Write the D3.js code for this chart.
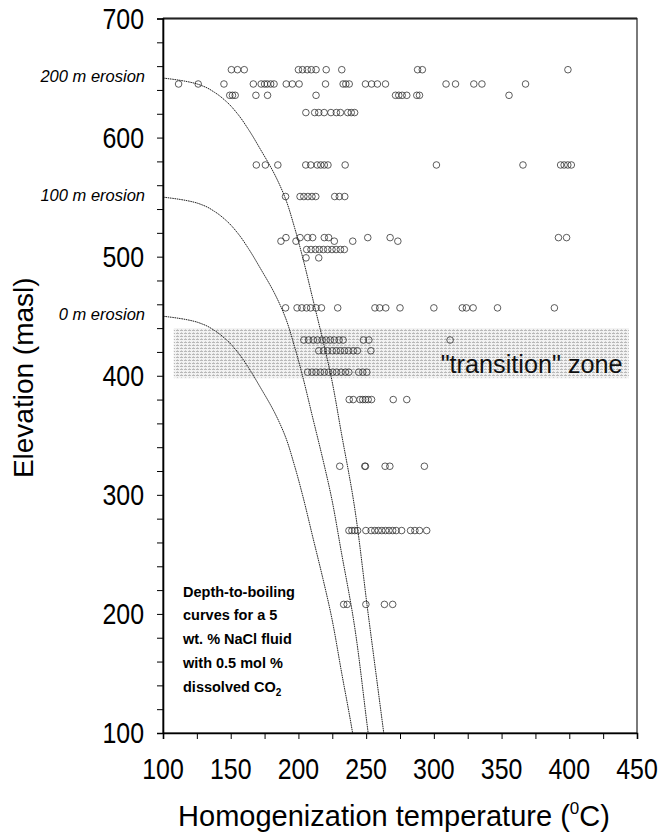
<!DOCTYPE html>
<html><head><meta charset="utf-8">
<script src="https://cdn.jsdelivr.net/npm/d3@7"></script>
<style>body{margin:0;background:#fff}svg{display:block}</style>
</head><body>
<script>
// ---- data ----
const xTickValues = [100,150,200,250,300,350,400,450];
const yTickValues = [100,200,300,400,500,600,700];
const xMinorTicks = d3.range(100, 451, 25);
const yMinorTicks = d3.range(100, 701, 20);

const rowElevations = [657, 645, 635.5, 621, 577, 550.5, 516, 513, 506, 499, 457, 430, 421, 403, 380, 324, 270, 208];
const rowTemps = [
  [150.5,155,160,200,203,206.5,209.5,213,220.5,232,288,291.5,399],
  [111.5,126,145,166.7,172.5,175,177,179.5,182,191,195.5,200.5,220,233,235,237.5,249.5,254,258.3,264.3,309,316,329.5,335.5,367.7],
  [149.3,151.3,153.3,168.6,177.2,213,271.7,274.1,276.6,280,287.4,289.4,355.5],
  [205.5,212,215,219,224,228,231,236.4,239,241.5],
  [168.9,175.6,184.8,205.4,209.1,213.9,216.5,219.1,221.8,234.5,301.9,365.8,393.6,396.2,398.9,401.5],
  [190.5,201.2,204,207,210,212.8,226.8,230.2,234.2],
  [190.8,201.2,206.8,210.5,219.1,222.3,251.2,267.7,392,398],
  [187.1,198.2,226.5,240.1,273.4],
  [206.1,209.3,212.5,215.4,218.4,221.6,224.8,227.8,231,233.9],
  [205.6,215],
  [190.5,199,202.5,206,209,213,217,229,256.5,260,264.5,275,300,321,324,329,347,389],
  [204,207.5,211,214,217.5,220.5,223.5,226.5,230,233,248,252,312],
  [215,218.5,221.5,225,228,231,234,237,240.5,243.5,253.5],
  [206.8,210,213,216.2,219.1,222.3,225.3,228.2,231.5,234.7,237.2,244.5,247.5,250.5],
  [237.5,240.5,245.5,247.5,249.5,251.5,254,270,280],
  [230.5,249,249.5,264,267.5,293],
  [237.3,239.5,241.6,243.7,249.8,253.7,256.4,259,261.6,264.3,266.9,269.6,272.2,276.2,282.8,286,289.4,294.7],
  [233.4,236,249.8,263.5,269.6]
];

// depth-to-boiling curve (depth below surface, m -> temperature, C)
const boilDepth = [0, 1, 2, 4, 7, 12, 20, 30, 43, 60, 80, 100, 125, 150, 185, 220, 250, 300, 350, 450, 550];
const boilTemp  = [100,107,113,122,130,138,147,155,163,172,182,190,197,203,210.5,218,224,232,240,251.5,263];
const surfaceElevations = [650, 550, 450];
const erosionLabels = ["200 m erosion", "100 m erosion", "0 m erosion"];

const zoneElev = [398, 440];
const zoneTemp = [108, 444];
const zoneLabel = "\"transition\" zone";
const noteLines = ["Depth-to-boiling", "curves for a  5", "wt. % NaCl fluid", "with 0.5 mol %", "dissolved CO"];
const noteElev = [218, 199, 179, 159, 139];

// ---- layout ----
const W = 661, H = 835;
const m = {left: 163, right: 637, top: 18.5, bottom: 733};
const svg = d3.select("body").append("svg").attr("width", W).attr("height", H)
  .style("font-family", "'Liberation Sans', Arial, sans-serif");

const x = d3.scaleLinear().domain([100, 450]).range([m.left, m.right]);
const y = d3.scaleLinear().domain([100, 700]).range([m.bottom, m.top]);

const defs = svg.append("defs");
const pat = defs.append("pattern").attr("id", "stip").attr("patternUnits", "userSpaceOnUse")
  .attr("width", 4).attr("height", 3);
pat.append("rect").attr("width", 4).attr("height", 3).attr("fill", "#f2f2f2");
pat.append("rect").attr("width", 3).attr("height", 1).attr("fill", "#b8b8b8");
pat.append("rect").attr("x", 1).attr("y", 2).attr("width", 1).attr("height", 1).attr("fill", "#cfcfcf");
defs.append("clipPath").attr("id", "clip").append("rect")
  .attr("x", m.left).attr("y", m.top).attr("width", m.right - m.left).attr("height", m.bottom - m.top);

// transition zone
svg.append("rect")
  .attr("x", x(zoneTemp[0])).attr("y", y(zoneElev[1]))
  .attr("width", x(zoneTemp[1]) - x(zoneTemp[0])).attr("height", y(zoneElev[0]) - y(zoneElev[1]))
  .attr("fill", "url(#stip)");

svg.append("text").attr("x", x(305)).attr("y", y(402.5))
  .attr("font-size", 26).attr("fill", "#111")
  .attr("textLength", 182).attr("lengthAdjust", "spacingAndGlyphs").text(zoneLabel);

// boiling curves
const curveG = svg.append("g").attr("clip-path", "url(#clip)");
surfaceElevations.forEach(s => {
  const pts = boilDepth.map((d, i) => [boilTemp[i], s - d]);
  curveG.append("path").datum(pts)
    .attr("d", d3.line().x(p => x(p[0])).y(p => y(p[1])).curve(d3.curveMonotoneY))
    .attr("fill", "none").attr("stroke", "#222").attr("stroke-width", 1)
    .attr("stroke-dasharray", "1.6,0.7");
});

// points
const ptsG = svg.append("g");
rowElevations.forEach((e, i) => {
  rowTemps[i].forEach(t => {
    ptsG.append("circle").attr("cx", x(t)).attr("cy", y(e)).attr("r", 3.3)
      .attr("fill", "none").attr("stroke", "#333").attr("stroke-width", 0.8);
  });
});

// frame
svg.append("rect").attr("x", m.left).attr("y", m.top).attr("width", m.right - m.left)
  .attr("height", m.bottom - m.top).attr("fill", "none").attr("stroke", "#222").attr("stroke-width", 1.2);
svg.append("line").attr("x1", m.left).attr("x2", m.right).attr("y1", m.top).attr("y2", m.top)
  .attr("stroke", "#222").attr("stroke-width", 2);

// axes
const xAxis = svg.append("g").attr("transform", `translate(0,${m.bottom})`)
  .call(d3.axisBottom(x).tickValues(xMinorTicks).tickSize(6).tickFormat(""));
xAxis.select(".domain").attr("stroke-width", 1.6);
const yAxis = svg.append("g").attr("transform", `translate(${m.left},0)`)
  .call(d3.axisLeft(y).tickValues(yMinorTicks).tickSize(6).tickFormat(""));
yAxis.select(".domain").attr("stroke-width", 1.6);

svg.append("g").selectAll("text").data(xTickValues).join("text")
  .attr("transform", d => `translate(${x(d)},${m.bottom + 46}) scale(0.86,1)`)
  .attr("text-anchor", "middle").attr("font-size", 29).text(d => d);
svg.append("g").selectAll("text").data(yTickValues).join("text")
  .attr("transform", d => `translate(144,${y(d) + 10}) scale(0.86,1)`)
  .attr("text-anchor", "end").attr("font-size", 29).text(d => d);

// erosion labels
svg.append("g").selectAll("text").data(erosionLabels).join("text")
  .attr("x", 145).attr("y", (d, i) => y(surfaceElevations[i]) + 4)
  .attr("text-anchor", "end").attr("font-size", 16.5).attr("font-style", "italic").text(d => d);

// note
const note = svg.append("g");
noteLines.forEach((l, i) => {
  const t = note.append("text").attr("x", 183).attr("y", y(noteElev[i]) + 5)
    .attr("font-size", 14.5).attr("font-weight", "bold").text(l);
  if (i === noteLines.length - 1) {
    t.append("tspan").attr("font-size", 10).attr("dy", 4).text("2");
  }
});

// axis titles
const xt = svg.append("text").attr("x", 394).attr("y", 826).attr("text-anchor", "middle").attr("font-size", 29);
xt.append("tspan").text("Homogenization temperature (");
xt.append("tspan").attr("font-size", 17).attr("dy", -12).text("0");
xt.append("tspan").attr("dy", 12).text("C)");

svg.append("text").attr("transform", `translate(33,${(m.top + m.bottom) / 2 + 2}) rotate(-90)`)
  .attr("text-anchor", "middle").attr("font-size", 28).text("Elevation (masl)");
</script>
</body></html>
